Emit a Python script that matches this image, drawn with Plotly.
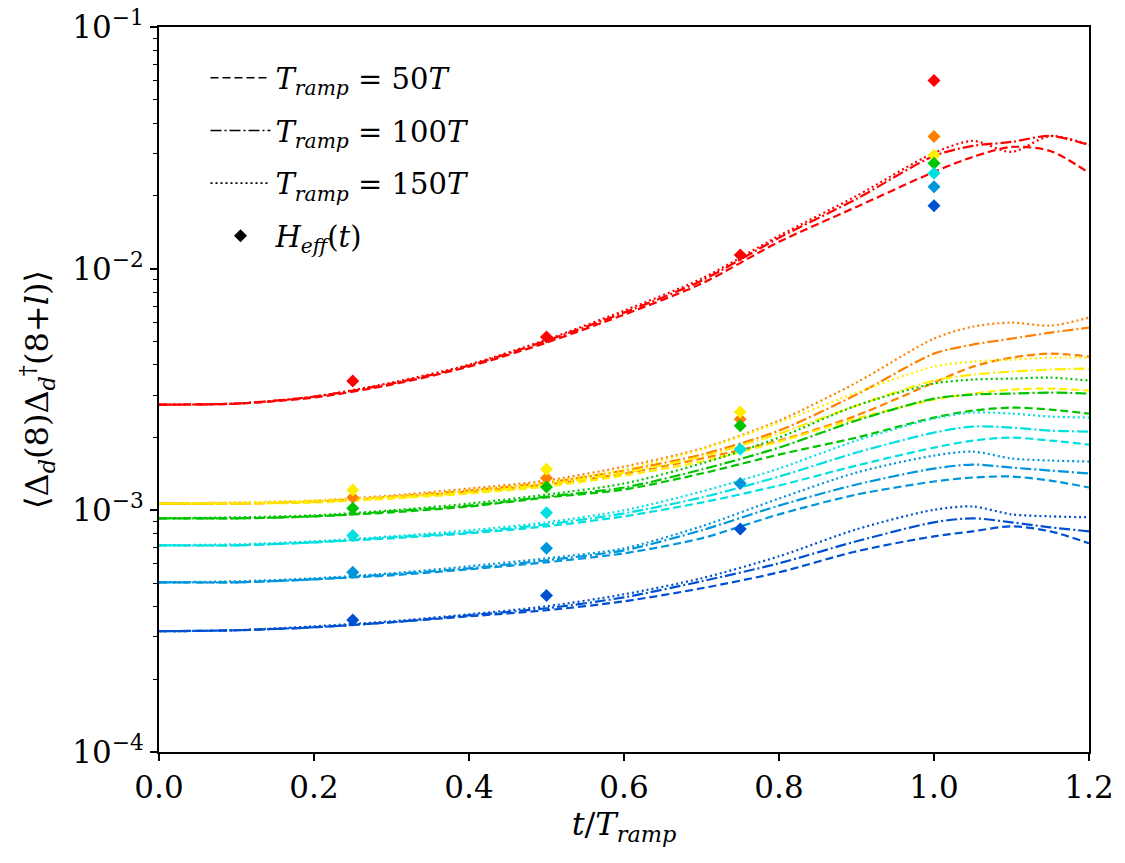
import plotly.graph_objects as go

# ---------------- data ----------------
t = [0.0, 0.1, 0.2, 0.3, 0.4, 0.5, 0.6, 0.7, 0.8, 0.9, 1.0, 1.05, 1.1, 1.15, 1.2]
t_eff = [0.25, 0.5, 0.75, 1.0]

# T_ramp = 50T (dashed)
red_50 = [2.739e-3, 2.765e-3, 2.928e-3, 3.313e-3, 3.933e-3, 4.943e-3, 6.453e-3, 8.669e-3, 1.291e-2, 1.801e-2, 2.514e-2, 2.900e-2, 3.190e-2, 3.070e-2, 2.490e-2]
orange_50 = [1.067e-3, 1.067e-3, 1.087e-3, 1.130e-3, 1.196e-3, 1.279e-3, 1.420e-3, 1.638e-3, 1.944e-3, 2.467e-3, 3.377e-3, 3.933e-3, 4.285e-3, 4.451e-3, 4.326e-3]
yellow_50 = [1.067e-3, 1.067e-3, 1.077e-3, 1.119e-3, 1.174e-3, 1.255e-3, 1.393e-3, 1.592e-3, 1.925e-3, 2.397e-3, 2.873e-3, 3.041e-3, 3.160e-3, 3.190e-3, 3.130e-3]
green_50 = [0.9267e-3, 0.9267e-3, 0.9445e-3, 0.9811e-3, 1.037e-3, 1.130e-3, 1.219e-3, 1.420e-3, 1.701e-3, 2.000e-3, 2.420e-3, 2.586e-3, 2.661e-3, 2.611e-3, 2.514e-3]
cyan_50 = [0.7166e-3, 0.7166e-3, 0.7373e-3, 0.7660e-3, 0.8034e-3, 0.8587e-3, 0.9445e-3, 1.077e-3, 1.267e-3, 1.532e-3, 1.818e-3, 1.944e-3, 2.000e-3, 1.944e-3, 1.871e-3]
ltblue_50 = [0.5038e-3, 0.5038e-3, 0.5184e-3, 0.5385e-3, 0.5702e-3, 0.6095e-3, 0.6640e-3, 0.7660e-3, 0.9626e-3, 1.162e-3, 1.316e-3, 1.367e-3, 1.380e-3, 1.328e-3, 1.243e-3]
blue_50 = [0.3160e-3, 0.3190e-3, 0.3282e-3, 0.3442e-3, 0.3644e-3, 0.3859e-3, 0.4204e-3, 0.4758e-3, 0.5541e-3, 0.6768e-3, 0.7807e-3, 0.8188e-3, 0.8587e-3, 0.8188e-3, 0.7304e-3]

# T_ramp = 100T (dash-dot)
red_100 = [2.739e-3, 2.765e-3, 2.956e-3, 3.345e-3, 3.971e-3, 5.038e-3, 6.577e-3, 8.920e-3, 1.341e-2, 1.944e-2, 2.928e-2, 3.221e-2, 3.345e-2, 3.542e-2, 3.251e-2]
orange_100 = [1.067e-3, 1.067e-3, 1.087e-3, 1.140e-3, 1.208e-3, 1.303e-3, 1.461e-3, 1.701e-3, 2.138e-3, 3.012e-3, 4.451e-3, 4.850e-3, 5.135e-3, 5.437e-3, 5.702e-3]
yellow_100 = [1.067e-3, 1.067e-3, 1.087e-3, 1.130e-3, 1.185e-3, 1.279e-3, 1.433e-3, 1.669e-3, 2.078e-3, 2.713e-3, 3.442e-3, 3.644e-3, 3.750e-3, 3.822e-3, 3.859e-3]
green_100 = [0.9267e-3, 0.9267e-3, 0.9445e-3, 0.990e-3, 1.046e-3, 1.140e-3, 1.243e-3, 1.475e-3, 1.818e-3, 2.352e-3, 2.900e-3, 3.012e-3, 3.041e-3, 3.070e-3, 3.041e-3]
cyan_100 = [0.7166e-3, 0.7166e-3, 0.7373e-3, 0.7733e-3, 0.8110e-3, 0.8752e-3, 0.9718e-3, 1.130e-3, 1.380e-3, 1.734e-3, 2.098e-3, 2.221e-3, 2.200e-3, 2.138e-3, 2.118e-3]
ltblue_100 = [0.5038e-3, 0.5038e-3, 0.5184e-3, 0.5437e-3, 0.5757e-3, 0.6212e-3, 0.6833e-3, 0.8266e-3, 1.046e-3, 1.279e-3, 1.489e-3, 1.547e-3, 1.503e-3, 1.461e-3, 1.420e-3]
blue_100 = [0.3160e-3, 0.3190e-3, 0.3282e-3, 0.3442e-3, 0.3679e-3, 0.3933e-3, 0.4367e-3, 0.5086e-3, 0.6037e-3, 0.7444e-3, 0.8920e-3, 0.9267e-3, 0.8920e-3, 0.8505e-3, 0.8188e-3]

# T_ramp = 150T (dotted)
red_150 = [2.739e-3, 2.765e-3, 2.956e-3, 3.377e-3, 4.009e-3, 5.086e-3, 6.704e-3, 9.092e-3, 1.367e-2, 2.000e-2, 3.012e-2, 3.377e-2, 3.041e-2, 3.542e-2, 3.251e-2]
orange_150 = [1.067e-3, 1.077e-3, 1.098e-3, 1.151e-3, 1.231e-3, 1.328e-3, 1.518e-3, 1.801e-3, 2.352e-3, 3.377e-3, 5.135e-3, 5.757e-3, 5.980e-3, 5.812e-3, 6.271e-3]
yellow_150 = [1.067e-3, 1.077e-3, 1.098e-3, 1.140e-3, 1.208e-3, 1.303e-3, 1.475e-3, 1.784e-3, 2.308e-3, 3.070e-3, 3.933e-3, 4.125e-3, 4.204e-3, 4.285e-3, 4.285e-3]
green_150 = [0.9267e-3, 0.9355e-3, 0.9535e-3, 1.000e-3, 1.067e-3, 1.162e-3, 1.291e-3, 1.562e-3, 2.000e-3, 2.713e-3, 3.345e-3, 3.475e-3, 3.508e-3, 3.542e-3, 3.442e-3]
cyan_150 = [0.7166e-3, 0.7235e-3, 0.7444e-3, 0.7807e-3, 0.8266e-3, 0.8920e-3, 1.000e-3, 1.196e-3, 1.489e-3, 1.944e-3, 2.397e-3, 2.538e-3, 2.514e-3, 2.443e-3, 2.420e-3]
ltblue_150 = [0.5038e-3, 0.5086e-3, 0.5234e-3, 0.5489e-3, 0.5867e-3, 0.6331e-3, 0.6964e-3, 0.8587e-3, 1.119e-3, 1.433e-3, 1.685e-3, 1.750e-3, 1.638e-3, 1.607e-3, 1.592e-3]
blue_150 = [0.3160e-3, 0.3190e-3, 0.3313e-3, 0.3475e-3, 0.3714e-3, 0.4009e-3, 0.4494e-3, 0.5234e-3, 0.6453e-3, 0.8345e-3, 1.005e-3, 1.037e-3, 0.9626e-3, 0.9445e-3, 0.9355e-3]

# H_eff(t) points
red_eff = [3.43e-3, 5.22e-3, 1.14e-2, 6.0e-2]
orange_eff = [1.13e-3, 1.36e-3, 2.38e-3, 3.52e-2]
yellow_eff = [1.215e-3, 1.48e-3, 2.55e-3, 2.95e-2]
green_eff = [1.02e-3, 1.25e-3, 2.24e-3, 2.73e-2]
cyan_eff = [0.786e-3, 0.978e-3, 1.79e-3, 2.48e-2]
ltblue_eff = [0.555e-3, 0.697e-3, 1.29e-3, 2.18e-2]
blue_eff = [0.352e-3, 0.444e-3, 0.838e-3, 1.82e-2]

colors = ["#ff0000", "#ff8000", "#ffee00", "#00c400", "#00e0e0", "#0096dc", "#0050d2"]
series_50 = [red_50, orange_50, yellow_50, green_50, cyan_50, ltblue_50, blue_50]
series_100 = [red_100, orange_100, yellow_100, green_100, cyan_100, ltblue_100, blue_100]
series_150 = [red_150, orange_150, yellow_150, green_150, cyan_150, ltblue_150, blue_150]
series_eff = [red_eff, orange_eff, yellow_eff, green_eff, cyan_eff, ltblue_eff, blue_eff]

y_tickvals = [1e-4, 1e-3, 1e-2, 1e-1]
y_ticktext = ["10<sup>−4</sup>", "10<sup>−3</sup>", "10<sup>−2</sup>", "10<sup>−1</sup>"]
y_minor = [m * d for d in (1e-4, 1e-3, 1e-2) for m in range(2, 10)]
x_tickvals = [0.0, 0.2, 0.4, 0.6, 0.8, 1.0, 1.2]

DASH_50 = "8px,4px"
DASH_100 = "11px,3px,2px,3px"
DASH_150 = "2px,3px"

FONT = "DejaVu Serif"

fig = go.Figure()

for data_list, dash in ((series_50, DASH_50), (series_100, DASH_100), (series_150, DASH_150)):
    for col, ys in zip(colors, data_list):
        fig.add_trace(go.Scatter(
            x=t, y=ys, mode="lines",
            line=dict(color=col, width=2.2, dash=dash, shape="spline", smoothing=0.8),
            showlegend=False, hoverinfo="skip"))

for col, ys in zip(colors, series_eff):
    fig.add_trace(go.Scatter(
        x=t_eff, y=ys, mode="markers",
        marker=dict(symbol="diamond", size=10, color=col, line=dict(width=0)),
        showlegend=False, hoverinfo="skip"))

# legend entries
leg = [
    ("<i>T</i><sub><i>ramp</i></sub> = 50<i>T</i>", DASH_50),
    ("<i>T</i><sub><i>ramp</i></sub> = 100<i>T</i>", DASH_100),
    ("<i>T</i><sub><i>ramp</i></sub> = 150<i>T</i>", DASH_150),
]
for i, (name, dash) in enumerate(leg):
    fig.add_trace(go.Scatter(
        x=[None], y=[None], mode="lines", name=name, legendgroup=f"g{i}",
        line=dict(color="black", width=1.6, dash=dash)))
fig.add_trace(go.Scatter(
    x=[None], y=[None], mode="markers", name="<i>H</i><sub><i>eff</i></sub>(<i>t</i>)",
    legendgroup="g3",
    marker=dict(symbol="diamond", size=10, color="black")))

fig.update_layout(
    template="none",
    width=1125, height=863,
    margin=dict(l=159, r=36, t=27, b=111, pad=0),
    paper_bgcolor="white", plot_bgcolor="white",
    font=dict(family=FONT, size=31, color="black"),
    showlegend=True,
    legend=dict(x=0.05, y=0.965, xanchor="left", yanchor="top",
                bgcolor="rgba(0,0,0,0)", borderwidth=0,
                font=dict(family=FONT, size=29, color="black"),
                tracegroupgap=12, itemwidth=60),
    xaxis=dict(
        automargin=False,
        range=[0, 1.2], tickvals=x_tickvals, tickformat=".1f",
        ticks="outside", ticklen=7, tickwidth=1.5, tickcolor="black",
        showline=True, linewidth=2, linecolor="black", mirror=True,
        showgrid=False, zeroline=False,
        tickfont=dict(family=FONT, size=31),
        title=dict(text="<i>t</i>/<i>T</i><sub><i>ramp</i></sub>",
                   font=dict(family=FONT, size=32), standoff=2)),
    yaxis=dict(
        automargin=False,
        type="log", range=[-4, -1], tickvals=y_tickvals, ticktext=y_ticktext,
        ticks="outside", ticklen=7, tickwidth=1.5, tickcolor="black",
        minor=dict(tickvals=y_minor, ticks="outside", ticklen=4, tickwidth=1, tickcolor="black", showgrid=False),
        showline=True, linewidth=2, linecolor="black", mirror=True,
        showgrid=False, zeroline=False,
        tickfont=dict(family=FONT, size=31),
        title=dict(text="⟨Δ<sub><i>d</i></sub>(8)Δ<sub><i>d</i></sub><sup>†</sup>(8+<i>l</i>)⟩",
                   font=dict(family=FONT, size=32), standoff=14)),
)

fig.write_html("out.html")
